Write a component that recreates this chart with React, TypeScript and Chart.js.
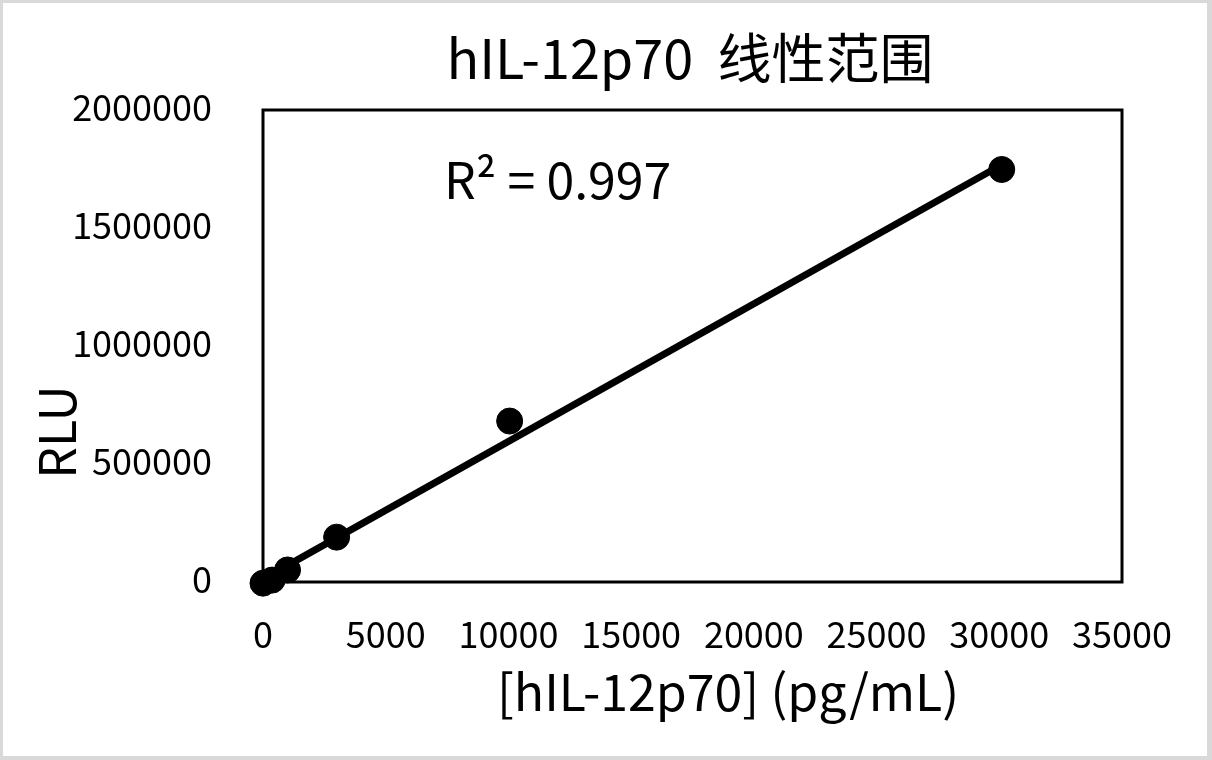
import React, { useEffect, useRef } from "react";
import { Chart, registerables } from "chart.js";

Chart.register(...registerables);

// ---- data ----
const concentrations = [0, 370, 1000, 3000, 10050, 30100];
const rluValues = [-5000, 8000, 51000, 190000, 682000, 1748000];
const trendX = [0, 30100];
const trendY = [12000, 1768000];
const xTickValues = [0, 5000, 10000, 15000, 20000, 25000, 30000, 35000];
const yTickValues = [0, 500000, 1000000, 1500000, 2000000];
const chartTitle = "hIL-12p70  线性范围";
const xAxisTitle = "[hIL-12p70] (pg/mL)";
const yAxisTitle = "RLU";
const r2Label = "R² = 0.997";

const FONT = '"Noto Sans CJK SC", "Noto Sans", sans-serif';

const overlayPlugin = {
  id: "overlay",
  beforeDatasetsDraw(chart: any) {
    const { ctx, chartArea } = chart;
    ctx.save();
    ctx.strokeStyle = "#000";
    ctx.lineWidth = 3;
    ctx.strokeRect(
      chartArea.left,
      chartArea.top,
      chartArea.right - chartArea.left,
      chartArea.bottom - chartArea.top
    );
    ctx.restore();
  },
  afterDraw(chart: any) {
    const { ctx, chartArea } = chart;
    ctx.save();
    ctx.fillStyle = "#000";
    ctx.textBaseline = "alphabetic";
    // title
    ctx.font = `54px ${FONT}`;
    ctx.textAlign = "center";
    ctx.fillText(chartTitle, 687, 76);
    // R2
    ctx.font = `50px ${FONT}`;
    ctx.textAlign = "left";
    ctx.fillText(r2Label, chartArea.left + 181, 196);
    // x axis title
    ctx.font = `50px ${FONT}`;
    ctx.textAlign = "center";
    ctx.fillText(xAxisTitle, 725, 708);
    // y axis title
    ctx.font = `50px ${FONT}`;
    ctx.translate(73, 429);
    ctx.rotate(-Math.PI / 2);
    ctx.textAlign = "center";
    ctx.fillText(yAxisTitle, 0, 0);
    ctx.restore();
  },
};

export default function App() {
  const canvasRef = useRef<HTMLCanvasElement | null>(null);

  useEffect(() => {
    document.body.style.margin = "0";
    const canvas = canvasRef.current;
    if (!canvas) return;
    const points = concentrations.map((x, i) => ({ x, y: rluValues[i] }));
    const trend = trendX.map((x, i) => ({ x, y: trendY[i] }));
    const chart = new Chart(canvas, {
      type: "scatter",
      data: {
        datasets: [
          {
            type: "line",
            data: trend,
            borderColor: "#000",
            borderWidth: 7,
            pointRadius: 0,
            showLine: true,
            fill: false,
            clip: false,
          } as any,
          {
            data: points,
            backgroundColor: "#000",
            borderColor: "#000",
            borderWidth: 1,
            pointRadius: 13,
            clip: false,
          } as any,
        ],
      },
      options: {
        animation: false,
        responsive: false,
        devicePixelRatio: 1,
        layout: { padding: { left: 0, right: 85, top: 107, bottom: 0 } },
        plugins: {
          legend: { display: false },
          tooltip: { enabled: false },
          title: { display: false },
        },
        scales: {
          x: {
            type: "linear",
            min: 0,
            max: 35000,
            grid: { display: false, drawTicks: false },
            border: { display: false },
            afterBuildTicks: (scale: any) => {
              scale.ticks = xTickValues.map((v) => ({ value: v }));
            },
            afterFit: (scale: any) => {
              scale.height = 174;
            },
            ticks: {
              color: "#000",
              padding: 31,
              maxRotation: 0,
              autoSkip: false,
              font: { family: FONT, size: 36 },
              callback: (v: any) => String(v),
            },
          },
          y: {
            type: "linear",
            min: 0,
            max: 2000000,
            grid: { display: false, drawTicks: false },
            border: { display: false },
            afterBuildTicks: (scale: any) => {
              scale.ticks = yTickValues.map((v) => ({ value: v }));
            },
            afterFit: (scale: any) => {
              scale.width = 260;
            },
            ticks: {
              color: "#000",
              padding: 51,
              labelOffset: -3,
              autoSkip: false,
              font: { family: FONT, size: 36 },
              callback: (v: any) => String(v),
            },
          },
        },
      },
      plugins: [overlayPlugin],
    });
    return () => chart.destroy();
  }, []);

  return (
    <div
      style={{
        position: "relative",
        width: 1212,
        height: 760,
        background: "#d9d9d9",
        overflow: "hidden",
      }}
    >
      <div
        style={{
          position: "absolute",
          left: 3,
          top: 3,
          width: 1204,
          height: 753,
          background: "#fff",
        }}
      >
        <canvas ref={canvasRef} width={1204} height={753} style={{ display: "block" }} />
      </div>
    </div>
  );
}
